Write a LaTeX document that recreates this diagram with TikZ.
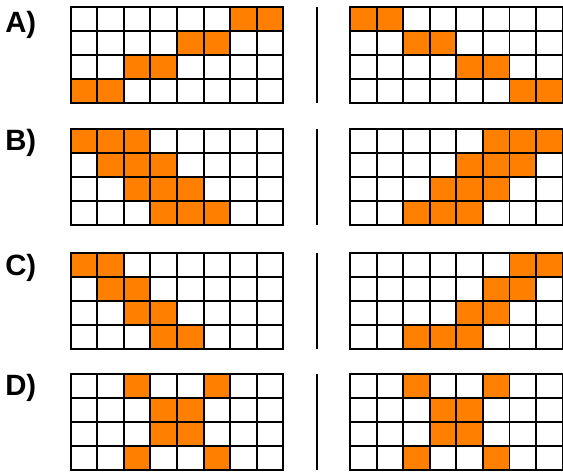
\documentclass[tikz,border=0pt]{standalone}
\usepackage{fontspec}
\setmainfont{Liberation Sans}
\definecolor{cellorange}{RGB}{255,128,0}
\tikzset{
  gridline/.style={draw=black, line width=1.4pt, line cap=rect},
  sepline/.style={draw=black, line width=1.6pt},
  lbl/.style={font=\fontsize{22}{26}\selectfont\bfseries, inner sep=0pt, anchor=base west}
}
\def\cw{26.575}
\def\ch{24}
\newcommand\mygrid[3]{%
  \foreach \c/\r in {#3} {\fill[cellorange] ({#1+\c*\cw},{#2+\r*\ch}) rectangle ++(\cw,\ch);}
  \foreach \i in {0,...,8} {\draw[gridline] ({#1+\i*\cw},#2) -- ++(0,{4*\ch});}
  \foreach \j in {0,...,4} {\draw[gridline] (#1,{#2+\j*\ch}) -- ++({8*\cw},0);}
}
\begin{document}
\begin{tikzpicture}[x=0.75pt,y=-0.75pt]
\useasboundingbox[fill=white] (0,0) rectangle (563,472);
% labels
\node[lbl] (la) at (5,32) {A)};
\node[lbl] (lb) at (5,150.5) {B)};
\node[lbl] (lc) at (5,275.5) {C)};
\node[lbl] (ld) at (5,395.5) {D)};
% A
\mygrid{70.7}{7.3}{6/0,7/0,4/1,5/1,2/2,3/2,0/3,1/3}
\mygrid{350}{7.3}{0/0,1/0,2/1,3/1,4/2,5/2,6/3,7/3}
\draw[sepline] (316.7,7.3) -- (316.7,103.3);
% B
\mygrid{70.7}{129.3}{0/0,1/0,2/0,1/1,2/1,3/1,2/2,3/2,4/2,3/3,4/3,5/3}
\mygrid{350}{129.3}{5/0,6/0,7/0,4/1,5/1,6/1,3/2,4/2,5/2,2/3,3/3,4/3}
\draw[sepline] (316.7,129.3) -- (316.7,225.3);
% C
\mygrid{70.7}{253.3}{0/0,1/0,1/1,2/1,2/2,3/2,3/3,4/3}
\mygrid{350}{253.3}{6/0,7/0,5/1,6/1,4/2,5/2,2/3,3/3,4/3}
\draw[sepline] (316.7,253.3) -- (316.7,349.3);
% D
\mygrid{70.7}{374.3}{2/0,5/0,3/1,4/1,3/2,4/2,2/3,5/3}
\mygrid{350}{374.3}{2/0,5/0,3/1,4/1,3/2,4/2,2/3,5/3}
\draw[sepline] (316.7,374.3) -- (316.7,470.3);
\end{tikzpicture}
\end{document}
